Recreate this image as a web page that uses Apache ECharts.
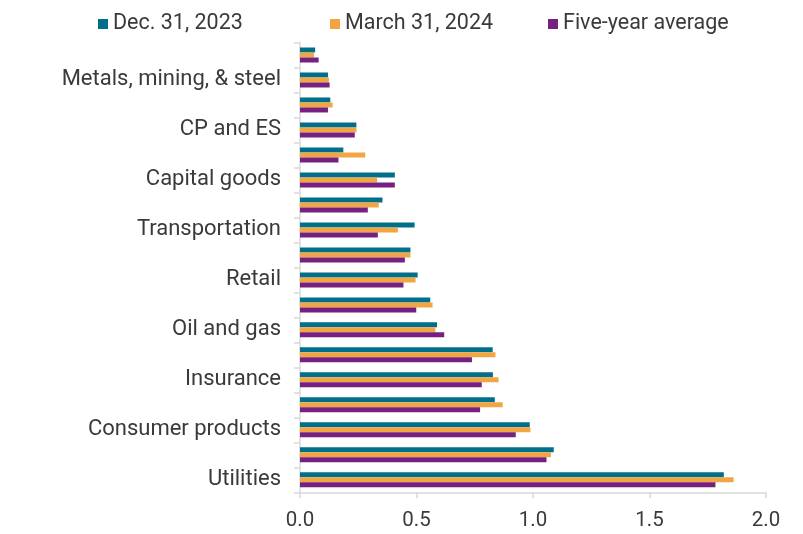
<!DOCTYPE html>
<html><head><meta charset="utf-8">
<script src="https://cdn.jsdelivr.net/npm/echarts@6/dist/echarts.min.js"></script>
<style>html,body{margin:0;padding:0;background:#fff}#c{width:803px;height:534px}</style>
</head><body><div id="c"></div>
<script>
// bottom to top
const categories = ["Utilities","Media and entertainment","Consumer products","Health care","Insurance","Telecommunications","Oil and gas","Technology","Retail","Homebuilders","Transportation","Aerospace and defense","Capital goods","Chemicals","CP and ES","Autos","Metals, mining, & steel","Forest products"];
const dec2023 = [1.819,1.089,0.986,0.836,0.828,0.827,0.588,0.559,0.505,0.474,0.492,0.354,0.407,0.186,0.242,0.13,0.12,0.065];
const mar2024 = [1.861,1.077,0.989,0.870,0.852,0.839,0.581,0.569,0.496,0.474,0.420,0.338,0.331,0.280,0.242,0.14,0.124,0.06];
const fiveYear = [1.783,1.058,0.926,0.773,0.780,0.738,0.619,0.499,0.444,0.450,0.334,0.291,0.407,0.165,0.235,0.12,0.127,0.08];
const xTicks = [0,0.5,1.0,1.5,2.0];
const seriesNames = ["Dec. 31, 2023","March 31, 2024","Five-year average"];
const colors = ["#006F8A","#F2A643","#76207F"];

const FONT = "Roboto";
const chart = echarts.init(document.getElementById('c'), null, {renderer:'canvas'});
const legendBase = {top: 8, itemWidth: 10, itemHeight: 10, itemGap: 0, icon: 'rect',
  textStyle: {fontFamily: FONT, fontSize: 21.5, fontWeight: 'normal', color: '#3a3a3a'}};
chart.setOption({
  animation: false,
  color: colors,
  legend: [
    Object.assign({}, legendBase, {left: 93, data: [seriesNames[0]]}),
    Object.assign({}, legendBase, {left: 325, data: [seriesNames[1]]}),
    Object.assign({}, legendBase, {left: 543, data: [seriesNames[2]]})
  ],
  grid: {left: 300, right: 37, top: 42.5, bottom: 41.7, containLabel: false},
  xAxis: {
    type: 'value', min: 0, max: 2, interval: 0.5,
    axisLine: {show: true, lineStyle: {color: '#d9d9d9', width: 1.5}},
    axisTick: {show: true, length: 6, lineStyle: {color: '#d9d9d9', width: 1.5}},
    splitLine: {show: false},
    axisLabel: {fontFamily: FONT, fontSize: 20.5, color: '#3a3a3a', margin: 18,
      formatter: v => xTicks.includes(v) ? v.toFixed(1) : ''}
  },
  yAxis: {
    type: 'category', data: categories,
    axisLine: {show: true, lineStyle: {color: '#d9d9d9', width: 1.5}},
    axisTick: {show: true, length: 6, interval: 0, lineStyle: {color: '#d9d9d9', width: 1.5}},
    axisLabel: {interval: 1, fontFamily: FONT, fontSize: 22, color: '#3a3a3a', margin: 19, padding: [6, 0, 0, 0]}
  },
  series: [
    {name: seriesNames[0], type: 'bar', data: dec2023, barWidth: 5, barGap: '0%'},
    {name: seriesNames[1], type: 'bar', data: mar2024, barWidth: 5, barGap: '0%'},
    {name: seriesNames[2], type: 'bar', data: fiveYear, barWidth: 5, barGap: '0%'}
  ]
});
</script></body></html>
